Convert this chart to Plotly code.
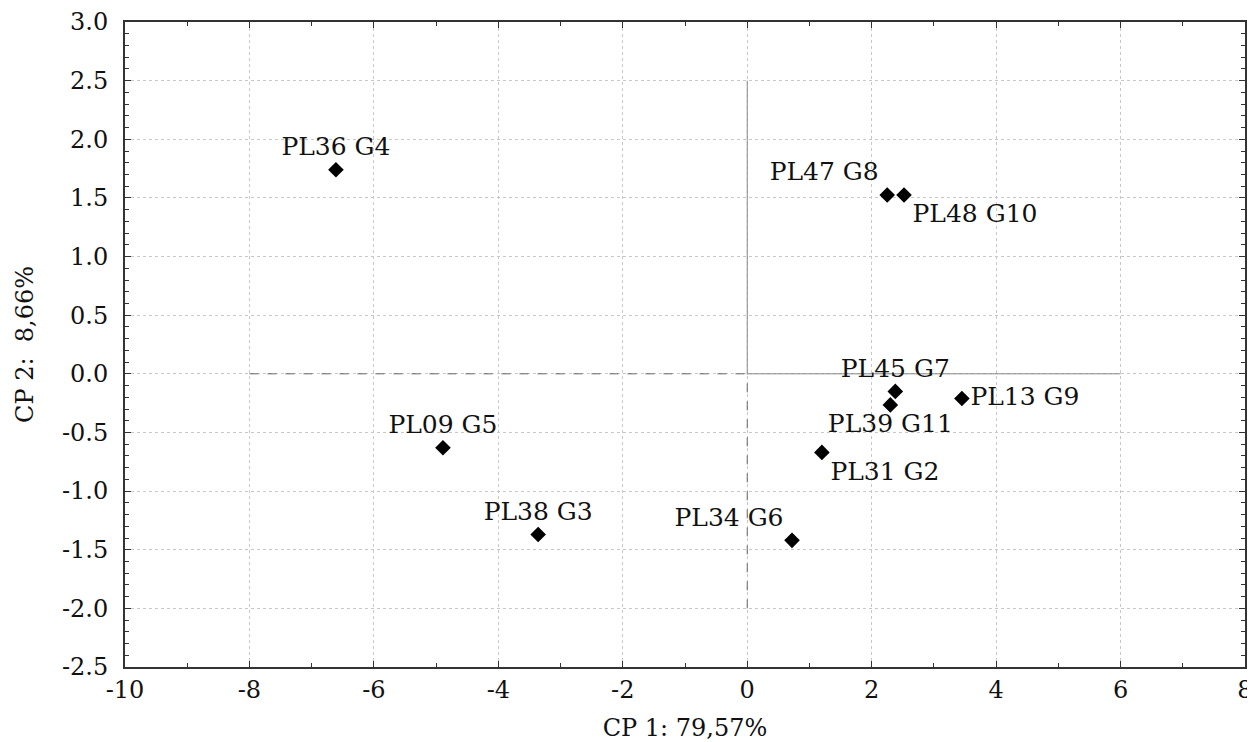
import plotly.graph_objects as go

labels = ["PL36 G4", "PL47 G8", "PL48 G10", "PL45 G7", "PL13 G9", "PL39 G11",
          "PL31 G2", "PL34 G6", "PL38 G3", "PL09 G5"]
cp1 = [-6.61, 2.25, 2.52, 2.38, 3.45, 2.30, 1.20, 0.72, -3.36, -4.89]
cp2 = [1.74, 1.525, 1.525, -0.15, -0.21, -0.265, -0.67, -1.42, -1.37, -0.63]
positions = ["top center", "top left", "bottom right", "top center", "middle right",
             "bottom center", "bottom right", "top left", "top center", "top center"]

x_tickvals = [-10, -8, -6, -4, -2, 0, 2, 4, 6, 8]
x_ticktext = ["-10", "-8", "-6", "-4", "-2", "0", "2", "4", "6", "8"]
y_tickvals = [-2.5, -2.0, -1.5, -1.0, -0.5, 0.0, 0.5, 1.0, 1.5, 2.0, 2.5, 3.0]
y_ticktext = ["-2.5", "-2.0", "-1.5", "-1.0", "-0.5", "0.0", "0.5", "1.0", "1.5", "2.0", "2.5", "3.0"]

# reference lines (data coordinates)
h_dash_x = [-8, 0]
h_solid_x = [0, 6]
v_solid_y = [0, 2.5]
v_dash_y = [-2, 0]

serif = "DejaVu Serif"

fig = go.Figure()
fig.add_trace(go.Scatter(x=h_dash_x, y=[0, 0], mode="lines",
                         line=dict(color="#666", width=1, dash="dash"), hoverinfo="skip"))
fig.add_trace(go.Scatter(x=h_solid_x, y=[0, 0], mode="lines",
                         line=dict(color="#888", width=1), hoverinfo="skip"))
fig.add_trace(go.Scatter(x=[0, 0], y=v_solid_y, mode="lines",
                         line=dict(color="#888", width=1), hoverinfo="skip"))
fig.add_trace(go.Scatter(x=[0, 0], y=v_dash_y, mode="lines",
                         line=dict(color="#666", width=1, dash="dash"), hoverinfo="skip"))
fig.add_trace(go.Scatter(x=cp1, y=cp2, mode="markers+text", text=labels,
                         textposition=positions,
                         textfont=dict(family=serif, size=25, color="#111"),
                         marker=dict(symbol="diamond", size=12, color="black")))

fig.update_layout(
    width=1247, height=734,
    margin=dict(l=117, r=10, t=14, b=75),
    plot_bgcolor="white", paper_bgcolor="white",
    showlegend=False,
    font=dict(family=serif, color="#111"),
)
fig.update_xaxes(
    range=[-10, 8], tickvals=x_tickvals, ticktext=x_ticktext,
    automargin=False,
    showline=True, linecolor="#333", linewidth=2, mirror="ticks",
    ticks="inside", ticklen=6, tickcolor="#333",
    minor=dict(dtick=1, ticks="inside", ticklen=4, tickcolor="#333", showgrid=False),
    showgrid=True, gridcolor="#c8c8c8", griddash="dot", gridwidth=1,
    zeroline=False,
    tickfont=dict(family=serif, size=24),
    title=dict(text="CP 1: 79,57%", font=dict(family=serif, size=24), standoff=18),
)
fig.update_yaxes(
    range=[-2.5, 3.0], tickvals=y_tickvals, ticktext=y_ticktext,
    automargin=False,
    showline=True, linecolor="#333", linewidth=2, mirror="ticks",
    ticks="inside", ticklen=6, tickcolor="#333",
    minor=dict(dtick=0.1, ticks="inside", ticklen=4, tickcolor="#333", showgrid=False),
    showgrid=True, gridcolor="#c8c8c8", griddash="dot", gridwidth=1,
    zeroline=False,
    ticklabelstandoff=10,
    tickfont=dict(family=serif, size=24),
    title=dict(text="CP 2:  8,66%", font=dict(family=serif, size=24), standoff=22),
)

fig.write_html("out.html")
